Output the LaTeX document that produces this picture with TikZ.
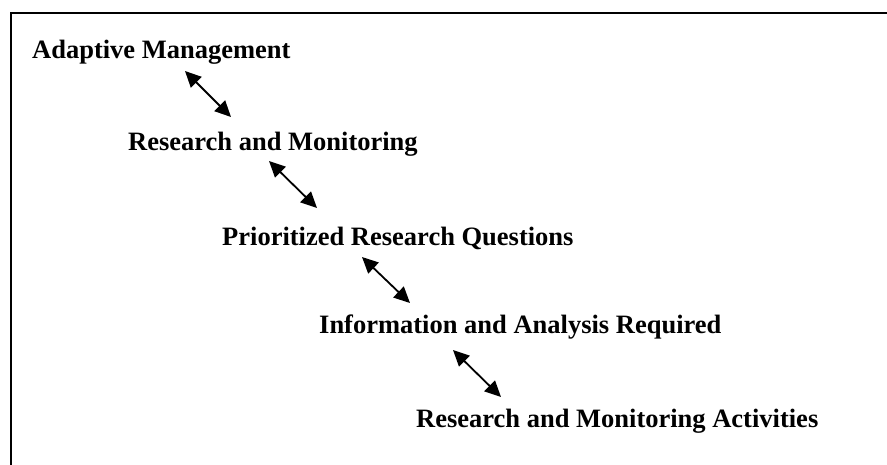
\documentclass[tikz,border=0pt]{standalone}
\usepackage{fontspec}
\setmainfont{Liberation Serif}
\usetikzlibrary{arrows.meta}
\tikzset{
  lbl/.style={anchor=base west, inner sep=0pt, font=\fontsize{26.5}{30}\selectfont\bfseries},
  dblarrow/.style={line width=1.8pt, {Triangle[length=16pt,width=15pt]}-{Triangle[length=16pt,width=15pt]}},
  frame/.style={line width=2pt}
}
\begin{document}
\begin{tikzpicture}[x=1pt,y=-1pt]
\useasboundingbox (0,0) rectangle (887,464);
\draw[frame] (11,470) -- (11,13) -- (895,13);
\node[lbl] (am) at (32,58) {Adaptive Management};
\node[lbl] (rm) at (128,150) {Research and Monitoring};
\node[lbl] (prq) at (222,245) {Prioritized Research Questions};
\node[lbl] (iar) at (319,333) {Information and Analysis Required};
\node[lbl] (rma) at (416,427) {Research and Monitoring Activities};
\coordinate (a1s) at (185,71);  \coordinate (a1e) at (231,117);
\coordinate (a2s) at (269,161); \coordinate (a2e) at (317,208);
\coordinate (a3s) at (362,257); \coordinate (a3e) at (410,303);
\coordinate (a4s) at (453,350); \coordinate (a4e) at (501,397);
\draw[dblarrow] (a1s) -- (a1e);
\draw[dblarrow] (a2s) -- (a2e);
\draw[dblarrow] (a3s) -- (a3e);
\draw[dblarrow] (a4s) -- (a4e);
\end{tikzpicture}
\end{document}
